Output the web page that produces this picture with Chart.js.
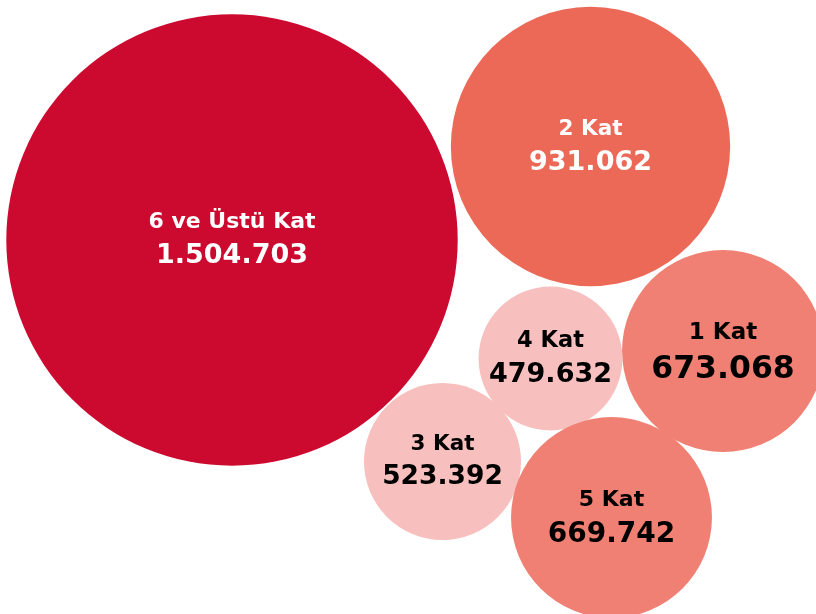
<!DOCTYPE html>
<html lang="tr">
<head>
  <meta charset="UTF-8" />
  <title>Kat Sayısına Göre Binalar</title>
  <script src="https://cdn.jsdelivr.net/npm/chart.js"></script>
  <style>
    html, body { margin: 0; padding: 0; background: #ffffff; }
    #wrap { width: 816px; height: 614px; }
  </style>
</head>
<body>
  <div id="wrap">
    <canvas id="bubbleChart" width="816" height="614"></canvas>
  </div>

  <script>
    // Kat sayısı grupları ve değerleri
    const categories = ["6 ve Üstü Kat", "2 Kat", "1 Kat", "4 Kat", "3 Kat", "5 Kat"];
    const values = [1504703, 931062, 673068, 479632, 523392, 669742];

    // Balonların yerleşimi (x, y eksen birimleri)
    const bubbleX = [232, 590.5, 723, 550.5, 442.5, 611.5];
    const bubbleY = [240, 146.5, 351, 358.5, 461.5, 517.5];

    // yarıçap değerle doğru orantılı
    const radiusPerUnit = 0.00015;

    const colors = ["#cc0a2f", "#ec6957", "#ef8073", "#f7bfbd", "#f7bfbd", "#ef8073"];
    const textColors = ["#ffffff", "#ffffff", "#000000", "#000000", "#000000", "#000000"];
    const labelSizes = [22, 21.5, 23, 22.5, 21.5, 22];
    const valueSizes = [27, 27, 31.5, 27, 26.5, 28];

    const fmt = n => n.toLocaleString("tr-TR");

    const bubbleLabels = {
      id: "bubbleLabels",
      afterDatasetsDraw(chart) {
        const ctx = chart.ctx;
        const meta = chart.getDatasetMeta(0);
        ctx.save();
        ctx.textAlign = "center";
        ctx.textBaseline = "alphabetic";
        meta.data.forEach((pt, i) => {
          const ls = labelSizes[i];
          const vs = valueSizes[i];
          const labelMid = pt.y - 0.8 * ls - 2;
          const valueMid = pt.y + 0.5 * vs;
          ctx.fillStyle = textColors[i];
          ctx.font = "bold " + ls + "px 'DejaVu Sans'";
          ctx.fillText(categories[i], pt.x, labelMid + 0.365 * ls);
          ctx.font = "bold " + vs + "px 'DejaVu Sans'";
          ctx.fillText(fmt(values[i]), pt.x, valueMid + 0.365 * vs);
        });
        ctx.restore();
      }
    };

    new Chart(document.getElementById("bubbleChart").getContext("2d"), {
      type: "bubble",
      data: {
        labels: categories,
        datasets: [{
          data: values.map((v, i) => ({ x: bubbleX[i], y: bubbleY[i], r: v * radiusPerUnit })),
          backgroundColor: colors,
          borderWidth: 0,
          hoverBorderWidth: 0,
          clip: false
        }]
      },
      options: {
        responsive: false,
        devicePixelRatio: 1,
        animation: false,
        events: [],
        layout: { padding: 0, autoPadding: false },
        plugins: {
          legend: { display: false },
          tooltip: { enabled: false }
        },
        scales: {
          x: { type: "linear", min: 0, max: 816, display: false },
          y: { type: "linear", min: 0, max: 614, reverse: true, display: false }
        }
      },
      plugins: [bubbleLabels]
    });
  </script>
</body>
</html>
